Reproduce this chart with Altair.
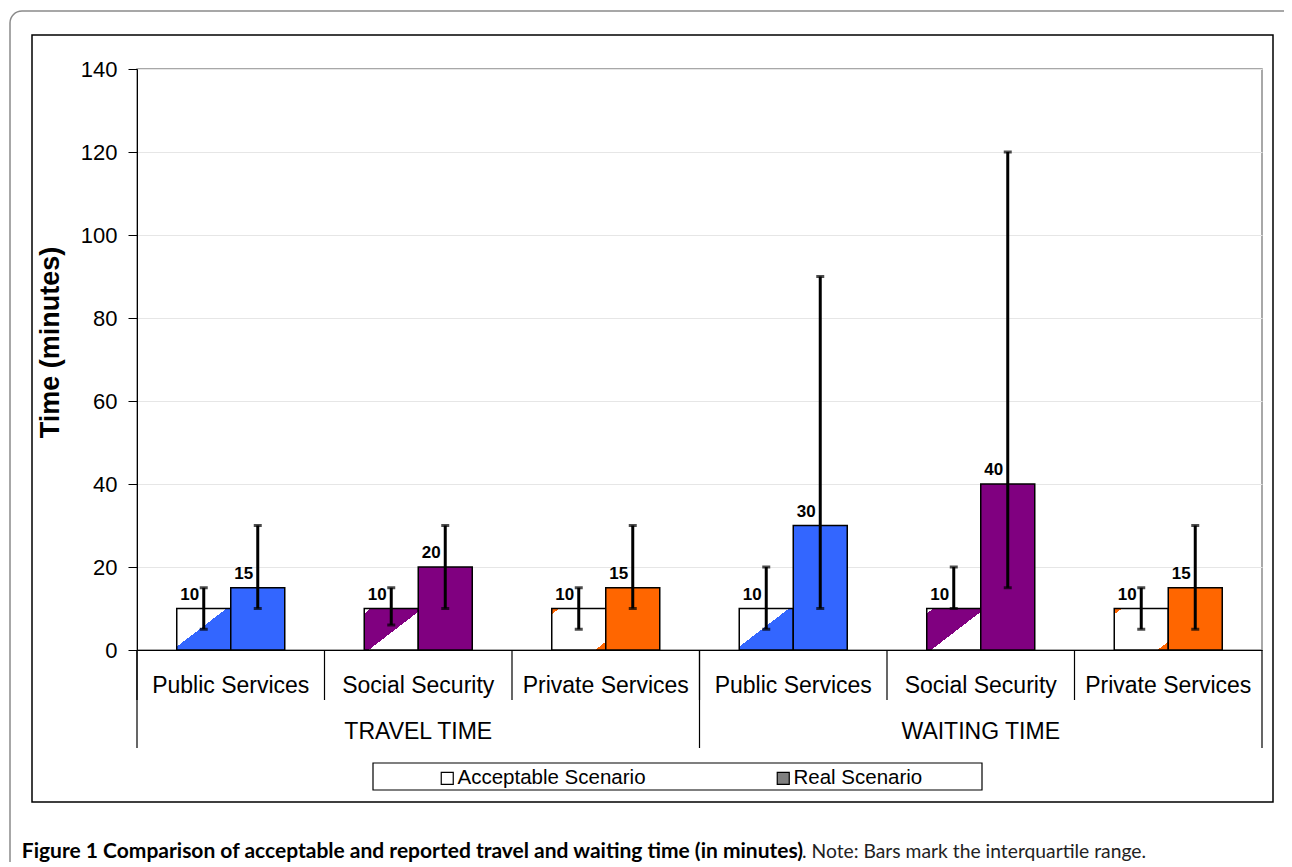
import altair as alt
import pandas as pd

# ---------------- data ----------------
groups = ["TRAVEL TIME", "WAITING TIME"]
services = ["Public Services", "Social Security", "Private Services"]
scenarios = ["Acceptable Scenario", "Real Scenario"]

acceptable = [10, 10, 10, 10, 10, 10]
acceptable_q1 = [5, 6, 5, 5, 10, 5]
acceptable_q3 = [15, 15, 15, 20, 20, 15]
real = [15, 20, 15, 30, 40, 15]
real_q1 = [10, 10, 10, 10, 15, 5]
real_q3 = [30, 30, 30, 90, 120, 30]
y_ticks = [0, 20, 40, 60, 80, 100, 120, 140]

y_title = "Time (minutes)"
caption_bold = "Figure 1 Comparison of acceptable and reported travel and waiting time (in minutes)"
caption_rest = ". Note: Bars mark the interquartile range."

# ---------------- styles ----------------
service_colors = ["#3366FF", "#800080", "#FF6600"]
FONT = "Liberation Sans, Arial, sans-serif"
CAP_FONT = "Lato, Liberation Sans, sans-serif"
W, H = 1125, 581

keys = [f"{g}|{s}" for g in groups for s in services]
rows = []
for i, k in enumerate(keys):
    g, s = k.split("|")
    rows.append(dict(key=k, group=g, service=s, scenario=scenarios[0],
                     value=acceptable[i], lo=acceptable_q1[i], hi=acceptable_q3[i]))
    rows.append(dict(key=k, group=g, service=s, scenario=scenarios[1],
                     value=real[i], lo=real_q1[i], hi=real_q3[i]))
df = pd.DataFrame(rows)

x_scale = alt.Scale(domain=keys, paddingInner=0, paddingOuter=0)
x_axis = alt.Axis(title=None, ticks=False, labelExpr="split(datum.label, '|')[1]",
                  labelAngle=0, labelFontSize=23, labelPadding=24, labelLimit=400,
                  labelColor="black", domainColor="black", domainWidth=1.2, grid=False)
y_scale = alt.Scale(domain=[0, 140], nice=False)
y_axis = alt.Axis(values=y_ticks, labelFontSize=22, tickSize=9, labelPadding=11,
                  titleFontSize=27, titleFontWeight="bold", titlePadding=16, titleY=273,
                  domainColor="black", tickColor="black", labelColor="black",
                  gridColor="#e6e6e6", grid=True)
xo = alt.XOffset("scenario:N", scale=alt.Scale(domain=scenarios, paddingInner=0, paddingOuter=0.736))


def X(**kw):
    return alt.X("key:N", scale=x_scale, axis=x_axis, **kw)


def Y(field):
    return alt.Y(f"{field}:Q", scale=y_scale, axis=y_axis, title=y_title)


base = alt.Chart(df)
one = alt.Chart(pd.DataFrame({"a": [0]}))

# frames
outer = one.mark_rect(fill="transparent", stroke="#8a8a8a", strokeWidth=1.5, cornerRadius=12).encode(
    x=alt.value(-127), x2=alt.value(1170), y=alt.value(-58), y2=alt.value(840))
inner = one.mark_rect(fill="transparent", stroke="black", strokeWidth=1.5).encode(
    x=alt.value(-105), x2=alt.value(1136), y=alt.value(-34), y2=alt.value(733))
legend_box = one.mark_rect(fill="white", stroke="black", strokeWidth=1.2).encode(
    x=alt.value(236), x2=alt.value(845), y=alt.value(694), y2=alt.value(721))


def grad(stops):
    return alt.LinearGradient(gradient="linear", x1=0, y1=0, x2=1, y2=1,
                              stops=[alt.GradientStop(offset=o, color=c) for o, c in stops])


patterns = {
    "Public Services": [(0, "white"), (0.46, "white"), (0.46, service_colors[0]), (1, service_colors[0])],
    "Social Security": [(0, "white"), (0.06, "white"), (0.06, service_colors[1]), (0.54, service_colors[1]),
                        (0.54, "white"), (1, "white")],
    "Private Services": [(0, service_colors[2]), (0.07, service_colors[2]), (0.07, "white"), (0.9, "white"),
                         (0.9, service_colors[2]), (1, service_colors[2])],
}

acc_layers = []
for s in services:
    acc_layers.append(
        base.transform_filter((alt.datum.scenario == scenarios[0]) & (alt.datum.service == s))
        .mark_bar(fill=grad(patterns[s]), stroke="black", strokeWidth=1.5)
        .encode(x=X(), xOffset=xo, y=Y("value"))
    )

real_bars = base.transform_filter(alt.datum.scenario == scenarios[1]).mark_bar(
    stroke="black", strokeWidth=1.5, opacity=1).encode(
    x=X(), xOffset=xo, y=Y("value"),
    color=alt.Color("service:N", scale=alt.Scale(domain=services, range=service_colors), legend=None))

err = base.mark_rule(color="black", strokeWidth=3).encode(
    x=X(), xOffset=xo, y=Y("lo"), y2="hi:Q")
cap_lo = base.mark_tick(color="black", thickness=3, size=8).encode(x=X(), xOffset=xo, y=Y("lo"))
cap_hi = base.mark_tick(color="black", thickness=3, size=8).encode(x=X(), xOffset=xo, y=Y("hi"))

labels = base.mark_text(font=FONT, fontSize=17, fontWeight="bold", dx=-14, dy=-5,
                        baseline="bottom", color="black").encode(
    x=X(), xOffset=xo, y=Y("value"), text="value:Q")

sep_df = pd.DataFrame({"key": keys})
sep_short = alt.Chart(sep_df).mark_rule(color="black", strokeWidth=1.2).encode(
    x=X(bandPosition=0), y=alt.value(H), y2=alt.value(H + 50))
sep_long_start = alt.Chart(pd.DataFrame({"key": [keys[0], keys[3]]})).mark_rule(
    color="black", strokeWidth=1.2).encode(x=X(bandPosition=0), y=alt.value(H), y2=alt.value(H + 98))
sep_long_end = alt.Chart(pd.DataFrame({"key": [keys[-1]]})).mark_rule(
    color="black", strokeWidth=1.2).encode(x=X(bandPosition=1), y=alt.value(H), y2=alt.value(H + 98))

grp_df = pd.DataFrame({"key": [keys[1], keys[4]], "group": groups})
grp_labels = alt.Chart(grp_df).mark_text(font=FONT, fontSize=23, baseline="middle", color="black").encode(
    x=X(), y=alt.value(H + 82), text="group:N")

cap1 = alt.Chart(pd.DataFrame({"t": [caption_bold]})).mark_text(
    font=CAP_FONT, fontSize=21, fontWeight="bold", align="right", baseline="alphabetic", color="black").encode(
    x=alt.value(666), y=alt.value(789), text="t:N")
cap2 = alt.Chart(pd.DataFrame({"t": [caption_rest]})).mark_text(
    font=CAP_FONT, fontSize=19.3, align="left", baseline="alphabetic", color="#222222").encode(
    x=alt.value(665), y=alt.value(789), text="t:N")

legend_layer = alt.Chart(pd.DataFrame({"scenario": scenarios})).mark_square(opacity=0).encode(
    x=alt.value(0), y=alt.value(0),
    fill=alt.Fill("scenario:N", scale=alt.Scale(domain=scenarios, range=["white", "#808080"]),
                  legend=alt.Legend(title=None, orient="none", legendX=300, legendY=699,
                                    direction="horizontal", symbolType="square", symbolSize=144,
                                    symbolStrokeColor="black", symbolStrokeWidth=1.2, symbolOpacity=1,
                                    labelFontSize=20.5, labelFont=FONT, labelColor="black",
                                    labelOffset=0, columnPadding=127, padding=0, labelLimit=400)))

chart = alt.layer(
    outer, inner, legend_box,
    *acc_layers, real_bars, err, cap_lo, cap_hi, labels,
    sep_short, sep_long_start, sep_long_end, grp_labels,
    cap1, cap2, legend_layer,
).properties(
    width=W, height=H,
    autosize=alt.AutoSizeParams(type="none"),
    padding={"left": 129, "top": 61, "right": 22, "bottom": 212},
).configure(font=FONT).configure_view(stroke="#8c8c8c", strokeWidth=1.5)

chart.save("out.html", embed_options={"renderer": "svg", "actions": False})
